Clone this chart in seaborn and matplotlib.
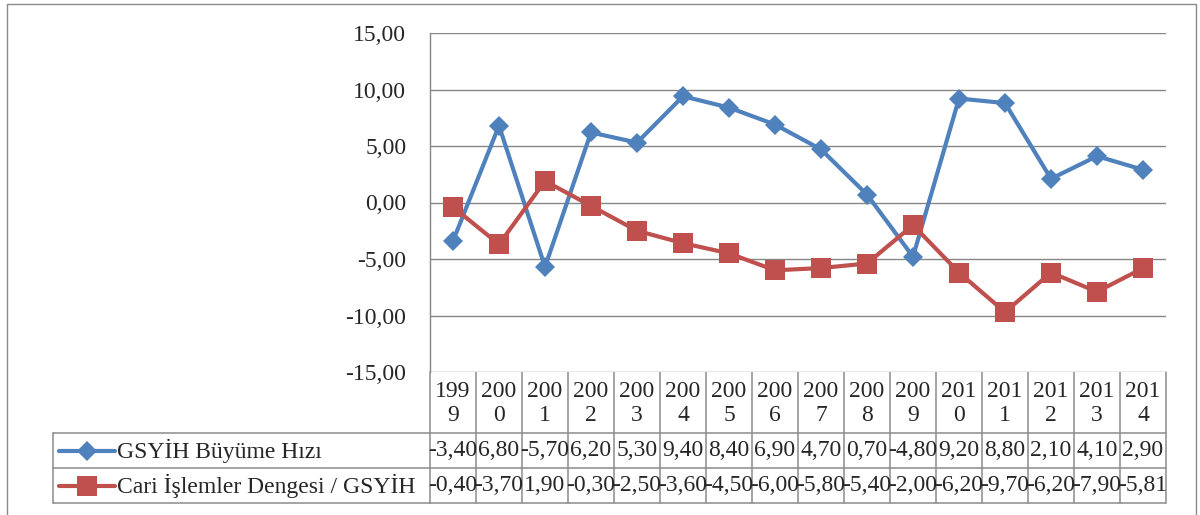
import matplotlib
matplotlib.use("Agg")
import matplotlib.pyplot as plt
import matplotlib.transforms as mtransforms
import seaborn as sns
import pandas as pd

# veri
years = [1999, 2000, 2001, 2002, 2003, 2004, 2005, 2006, 2007, 2008,
         2009, 2010, 2011, 2012, 2013, 2014]
gsyih = [-3.40, 6.80, -5.70, 6.20, 5.30, 9.40, 8.40, 6.90, 4.70, 0.70,
         -4.80, 9.20, 8.80, 2.10, 4.10, 2.90]
cari = [-0.40, -3.70, 1.90, -0.30, -2.50, -3.60, -4.50, -6.00, -5.80, -5.40,
        -2.00, -6.20, -9.70, -6.20, -7.90, -5.81]
series_names = ["GSYİH Büyüme Hızı", "Cari İşlemler Dengesi / GSYİH"]
y_ticks = [-15, -10, -5, 0, 5, 10, 15]

blue = "#4F81BD"
red = "#C0504D"
grid_c = "#868686"
fs = 17

sns.set_theme(style="white")
plt.rcParams['font.family'] = ['Liberation Serif', 'DejaVu Serif']

W, H = 1200, 515
fig = plt.figure(figsize=(12, 5.15), dpi=100)


def fx(px):
    return px / W


def fy(py):
    return 1 - py / H


# ana grafik alani
ax = fig.add_axes([fx(430), fy(372), fx(1166) - fx(430), fy(33) - fy(372)])
n = len(years)
df = pd.DataFrame({
    'pos': list(range(n)) * 2,
    'deger': gsyih + cari,
    'seri': [series_names[0]] * n + [series_names[1]] * n,
})
sns.lineplot(data=df, x='pos', y='deger', hue='seri', style='seri',
             palette={series_names[0]: blue, series_names[1]: red},
             markers={series_names[0]: 'D', series_names[1]: 's'},
             dashes=False, linewidth=3.0, markeredgewidth=0, legend=False,
             ax=ax)
for line, ms in zip(ax.lines, [10.5, 14]):
    line.set_markersize(ms)

ax.set_xlim(-0.5, n - 0.5)
ax.set_ylim(-15, 15)
ax.set_yticks(y_ticks)
ax.set_yticklabels([f"{v:.2f}".replace('.', ',') for v in y_ticks], fontsize=fs)
ax.set_xticks([])
ax.set_xlabel('')
ax.set_ylabel('')
ax.tick_params(axis='y', length=0, pad=17)
ax.grid(axis='y', color=grid_c, linewidth=1.0)
ax.set_axisbelow(True)
for s in ['top', 'right', 'bottom']:
    ax.spines[s].set_visible(False)
ax.spines['left'].set_color(grid_c)
ax.spines['left'].set_linewidth(1.0)

# tablo + cerceve (piksel koordinatlari)
tab = fig.add_axes([0, 0, 1, 1], zorder=-1)
tab.set_xlim(0, W)
tab.set_ylim(H, 0)
tab.axis('off')
tab.patch.set_alpha(0)

tcol = "#8C8C8C"
# dis cerceve
tab.plot([7, 7, 1196, 1196], [H + 5, 4, 4, H + 5], color="#8A8A8A", lw=1.0,
         clip_on=False)

# kolonlar: x ana eksenin veri koordinatlarinda, y pikselde
bt = mtransforms.blended_transform_factory(ax.transData, tab.transData)
row_top, row1, row2, row_bot = 372, 433, 468, 503
for i in range(n + 1):
    tab.plot([i - 0.5, i - 0.5], [row_top, row_bot], color=tcol, lw=1.1,
             transform=bt, clip_on=False)
for yy in [row1, row2, row_bot]:
    tab.plot([53, 430], [yy, yy], color=tcol, lw=1.1)
    tab.plot([-0.5, n - 0.5], [yy, yy], color=tcol, lw=1.1, transform=bt)
tab.plot([53, 53], [row1, row_bot], color=tcol, lw=1.1)

fmt = lambda v: f"{v:.2f}".replace('.', ',')
for i, yr in enumerate(years):
    s = str(yr)
    tab.text(i, (row_top + row1) / 2 + 1, s[:3] + "\n" + s[3:], ha='center',
             va='center', fontsize=fs, linespacing=1.2, transform=bt)
    tab.text(i, (row1 + row2) / 2, fmt(gsyih[i]), ha='center', va='center',
             fontsize=fs, transform=bt)
    tab.text(i, (row2 + row_bot) / 2, fmt(cari[i]), ha='center', va='center',
             fontsize=fs, transform=bt)

# satir basliklari (lejant anahtari)
for (yy, col, mk, ms, name) in [((row1 + row2) / 2, blue, 'D', 10.5, series_names[0]),
                                ((row2 + row_bot) / 2, red, 's', 14, series_names[1])]:
    tab.plot([59, 115], [yy, yy], color=col, lw=3.0, solid_capstyle='round')
    tab.plot([87], [yy], marker=mk, color=col, markersize=ms, markeredgewidth=0)
    tab.text(117, yy, name, ha='left', va='center', fontsize=fs)

fig.savefig("out.png", dpi=100)
